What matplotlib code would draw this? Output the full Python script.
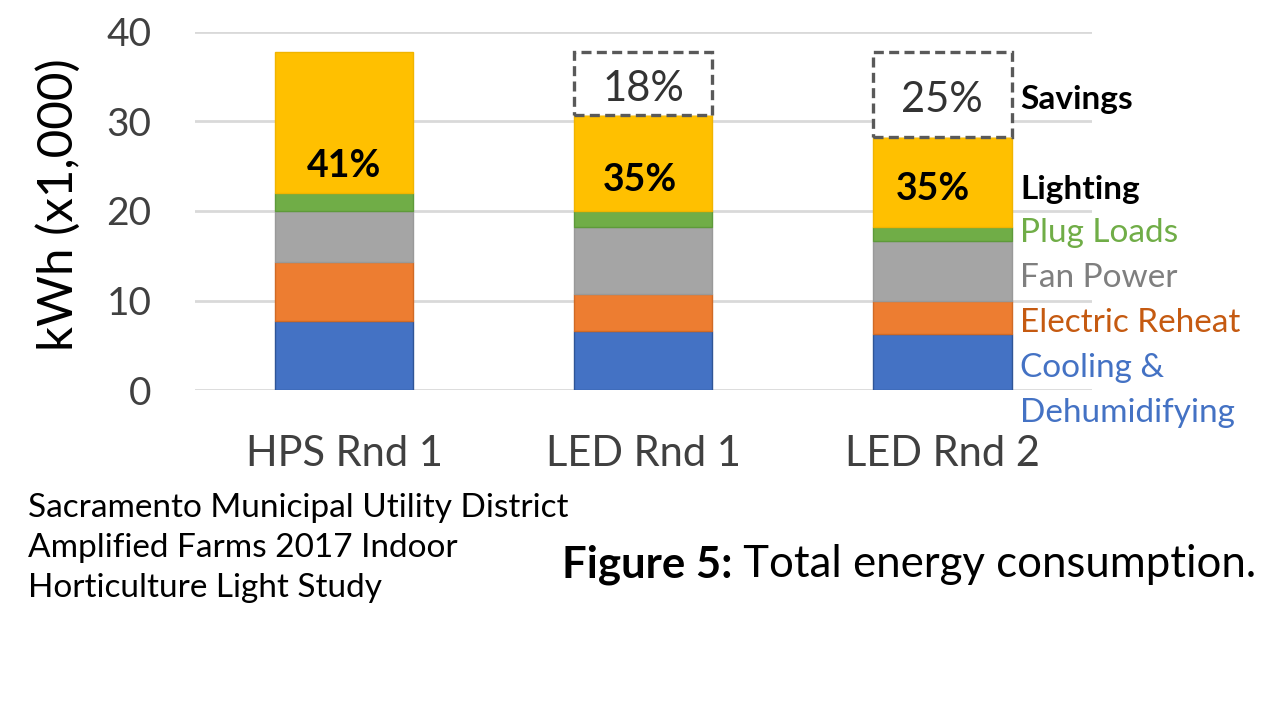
import matplotlib
matplotlib.use("Agg")
import matplotlib.pyplot as plt
import numpy as np

plt.rcParams["font.family"] = ["Lato", "DejaVu Sans"]

# ── données (kWh x1,000) ──
CATEGORIES = ["HPS Rnd 1", "LED Rnd 1", "LED Rnd 2"]
cooling  = [7.7, 6.6, 6.3]
reheat   = [6.6, 4.1, 3.7]
fan      = [5.7, 7.5, 6.6]
plug     = [2.0, 1.8, 1.6]
lighting = [15.7, 10.7, 10.0]
savings  = [0.0, 7.0, 9.5]

lighting_pct = ["41%", "35%", "35%"]
savings_pct  = ["", "18%", "25%"]

SEGMENTS = [
    ("Cooling &\nDehumidifying", cooling,  "#4472C4", "#2F5597"),
    ("Electric Reheat",          reheat,   "#ED7D31", "#D06A25"),
    ("Fan Power",                fan,      "#A5A5A5", "#999999"),
    ("Plug Loads",               plug,     "#70AD47", "#5E9A3A"),
    ("Lighting",                 lighting, "#FFC000", "#F0B400"),
]

fig = plt.figure(figsize=(12.8, 7.2), dpi=100)
ax = fig.add_axes([0.152, 0.458, 0.701, 0.498])

x = np.arange(len(CATEGORIES))
width = 0.463
bottom = np.zeros(len(CATEGORIES))
for name, vals, col, edge in SEGMENTS:
    ax.bar(x, vals, width, bottom=bottom, color=col, edgecolor=edge,
           linewidth=1.0, zorder=2)
    bottom = bottom + np.array(vals)
totals = bottom.copy()

# boîtes "Savings" en pointillés
for i in range(len(CATEGORIES)):
    if savings[i] <= 0:
        continue
    ax.bar(x[i], savings[i], width, bottom=totals[i], facecolor="white",
           edgecolor="#595959", linestyle=(0, (3, 1.6)), linewidth=2.4, zorder=3)
    ax.text(x[i], totals[i] + savings[i] / 2 - 0.6, savings_pct[i],
            ha="center", va="center", fontsize=30, color="#333333", zorder=4)

# % éclairage dans la barre jaune
light_bottom = totals - np.array(lighting)
pct_offset = [3.0, 3.5, 4.3]
pct_dx = [0.0, -0.01, -0.03]
for i in range(len(CATEGORIES)):
    ax.text(x[i] + pct_dx[i], light_bottom[i] + pct_offset[i], lighting_pct[i],
            ha="center", va="center", fontsize=27, fontweight="bold",
            color="black", zorder=4)

ax.set_xlim(-0.5, 2.5)
ax.set_ylim(0, 40)
ax.set_yticks([0, 10, 20, 30, 40])
ax.set_xticks(x)
ax.set_xticklabels(CATEGORIES)
ax.tick_params(axis="y", length=0, pad=31, labelsize=28, labelcolor="#404040")
ax.tick_params(axis="x", length=0, pad=32, labelsize=30, labelcolor="#404040")
ax.grid(axis="y", color="#D9D9D9", linewidth=2, zorder=0)
ax.set_axisbelow(True)
for s in ax.spines.values():
    s.set_visible(False)

# légende en texte à droite
legend_items = [
    ("Savings",         32.4, "black",   "bold"),
    ("Lighting",        22.4, "black",   "bold"),
    ("Plug Loads",      17.5, "#70AD47", "normal"),
    ("Fan Power",       12.5, "#7F7F7F", "normal"),
    ("Electric Reheat",  7.5, "#C55A11", "normal"),
    ("Cooling &",        2.5, "#4472C4", "normal"),
    ("Dehumidifying",   -2.5, "#4472C4", "normal"),
]
for label, yv, col, fw in legend_items:
    ax.text(2.26, yv, label, ha="left", va="center", fontsize=24,
            color=col, fontweight=fw, clip_on=False, zorder=5)

fig.text(58 / 1280, 1 - 205 / 720, "kWh (x1,000)", rotation=90,
         ha="center", va="center", fontsize=35.5, color="black")

fig.text(28 / 1280, 1 - 493 / 720,
         "Sacramento Municipal Utility District\nAmplified Farms 2017 Indoor\nHorticulture Light Study",
         ha="left", va="top", fontsize=24, color="black", linespacing=1.42)

t1 = fig.text(562 / 1280, 1 - 565 / 720, "Figure 5:", ha="left", va="center",
              fontsize=31.5, fontweight="bold", color="black")
ax.annotate(" Total energy consumption.", xy=(1, 0), xycoords=t1,
            ha="left", va="bottom", fontsize=31.5, color="black",
            annotation_clip=False)

fig.savefig("out.png", dpi=100)
